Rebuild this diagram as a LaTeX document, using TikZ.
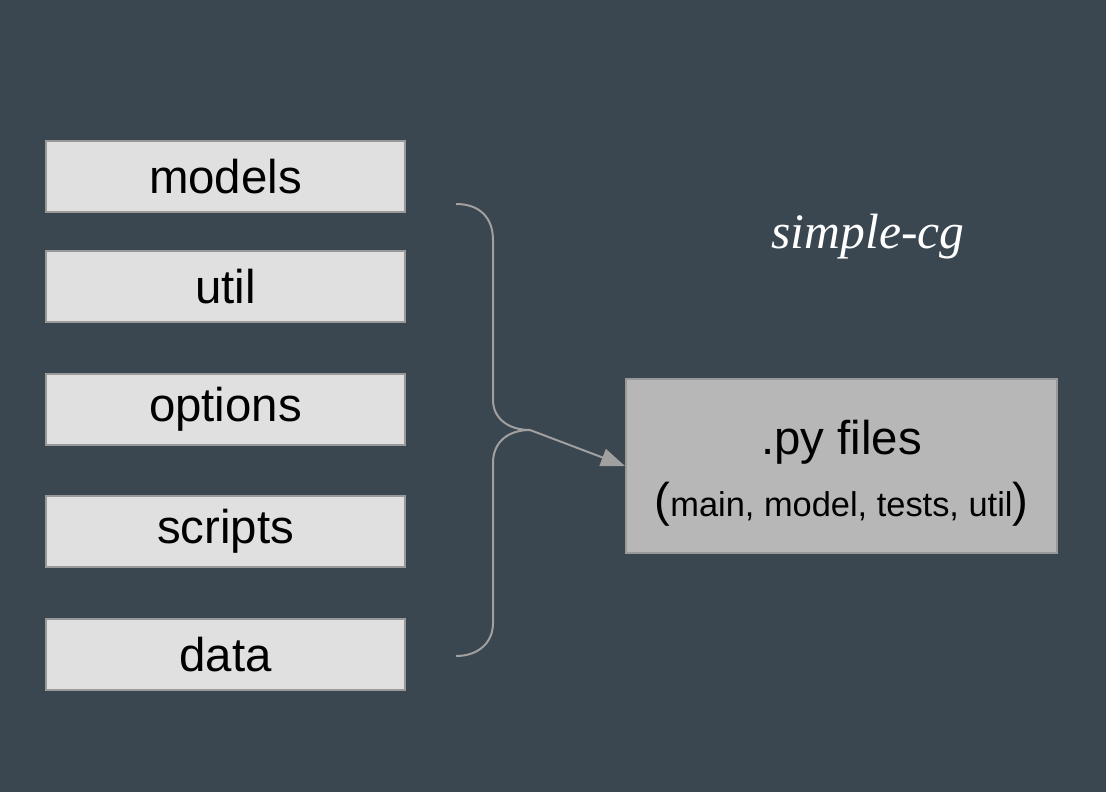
\documentclass[tikz,border=0pt]{standalone}
\usepackage{fontspec}
\setmainfont{Liberation Sans}
\newfontfamily\titlefont{Liberation Serif}
\usetikzlibrary{arrows.meta, positioning}
\definecolor{slateBg}{RGB}{58, 71, 80}
\definecolor{boxLight}{RGB}{224, 224, 224}
\definecolor{boxDark}{RGB}{183, 183, 183}
\definecolor{edgeGray}{RGB}{153, 153, 153}
\definecolor{braceGray}{RGB}{160, 160, 160}
\tikzset{
    % Base Block Style
    folder/.style={
        rectangle,
        minimum width=179.5pt,
        minimum height=35.5pt,
        inner sep=0pt,
        text centered,
        font=\fontsize{23.7pt}{28pt}\selectfont,
        fill=boxLight,
        draw=edgeGray,
        line width=1pt
    },
    % Result Block Style
    result/.style={folder, fill=boxDark, minimum width=215.5pt, minimum height=87pt, align=center},
    % Arrow & Brace Styles
    arrow/.style={-{Triangle[length=12pt, width=9pt]}, line width=1pt, draw=braceGray},
    brace/.style={line width=1pt, draw=braceGray},
    titleLabel/.style={font=\titlefont\itshape\fontsize{24.8pt}{28pt}\selectfont, color=white}
}
\begin{document}
\begin{tikzpicture}[x=0.5pt, y=-0.5pt]

    % --- Background ---
    \fill [slateBg] (0,0) rectangle (1106,792);
    \useasboundingbox (0,0) rectangle (1106,792);

    % --- LEFT COLUMN (Folders) ---
    \node (models) [folder] at (225.5,176.5) {models};
    \node (util) [folder, below=18.5pt of models] {util};
    \node (options) [folder, below=25pt of util] {options};
    \node (scripts) [folder, below=24.5pt of options] {scripts};
    \node (data) [folder, below=25pt of scripts] {data};

    % --- RIGHT SIDE (Result) ---
    \node (pyfiles) [result] at (841.5,466) {
        \rule{0pt}{24pt}.py files \\[3pt]
        {(}{\fontsize{17.2pt}{20pt}\selectfont main, model, tests, util}{)}
    };
    \node (title) [titleLabel] at (868,237) {simple-cg};

    % --- Brace & Arrow ---
    \coordinate (tip) at (530,430);
    \draw [brace] (456,204) .. controls (480,204) and (493,218) .. (493,240)
        -- (493,400) .. controls (493,418) and (508,430) .. (tip);
    \draw [brace] (tip) .. controls (508,430) and (493,442) .. (493,463)
        -- (493,623) .. controls (493,643) and (478,656) .. (456,656);
    \draw [arrow] (tip) -- (pyfiles.west);

\end{tikzpicture}
\end{document}
